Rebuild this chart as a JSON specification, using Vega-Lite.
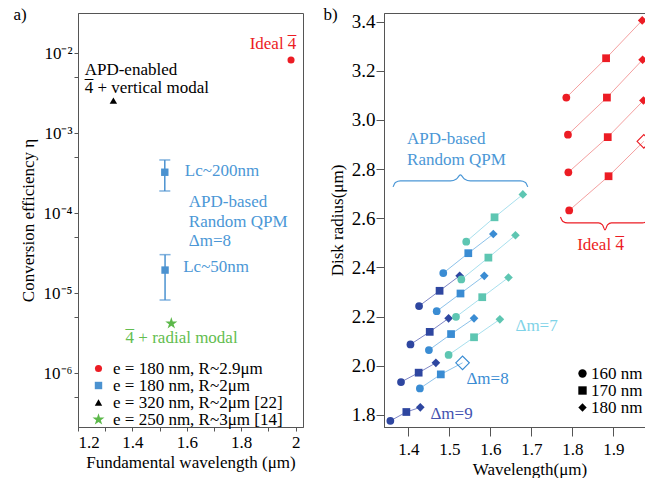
{
  "$schema": "https://vega.github.io/schema/vega-lite/v6.json",
  "background": "white",
  "padding": {"left": 13, "top": 5, "right": 0, "bottom": 0},
  "bounds": "flush",
  "spacing": 81,
  "config": {
    "font": "Liberation Serif",
    "view": {"stroke": "#555", "strokeWidth": 1},
    "axis": {"grid": false, "domainColor": "#555", "tickColor": "#555", "labelColor": "black", "titleColor": "black", "labelFont": "Liberation Serif", "titleFont": "Liberation Serif", "titleFontWeight": "normal", "labelFontSize": 17, "titleFontSize": 17, "labelOverlap": false},
    "text": {"font": "Liberation Serif", "fontSize": 17, "baseline": "alphabetic"},
    "legend": {"labelFont": "Liberation Serif", "labelFontSize": 17, "labelColor": "black"}
  },
  "datasets": {
    "pts": [
      {"dm": "9", "grp": "9-1", "e": "160 nm", "x": 1.356, "y": 1.776},
      {"dm": "9", "grp": "9-1", "e": "170 nm", "x": 1.395, "y": 1.812},
      {"dm": "9", "grp": "9-1", "e": "180 nm", "x": 1.429, "y": 1.831},
      {"dm": "9", "grp": "9-2", "e": "160 nm", "x": 1.382, "y": 1.934},
      {"dm": "9", "grp": "9-2", "e": "170 nm", "x": 1.425, "y": 1.972},
      {"dm": "9", "grp": "9-2", "e": "180 nm", "x": 1.467, "y": 2.012},
      {"dm": "9", "grp": "9-3", "e": "160 nm", "x": 1.405, "y": 2.087},
      {"dm": "9", "grp": "9-3", "e": "170 nm", "x": 1.452, "y": 2.138},
      {"dm": "9", "grp": "9-3", "e": "180 nm", "x": 1.498, "y": 2.193},
      {"dm": "9", "grp": "9-4", "e": "160 nm", "x": 1.426, "y": 2.243},
      {"dm": "9", "grp": "9-4", "e": "170 nm", "x": 1.476, "y": 2.305},
      {"dm": "9", "grp": "9-4", "e": "180 nm", "x": 1.525, "y": 2.366},
      {"dm": "8", "grp": "8-1", "e": "160 nm", "x": 1.428, "y": 1.908},
      {"dm": "8", "grp": "8-1", "e": "170 nm", "x": 1.479, "y": 1.965},
      {"dm": "8", "grp": "8-1", "e": "180 nm", "x": 1.532, "y": 2.012, "open": true},
      {"dm": "8", "grp": "8-2", "e": "160 nm", "x": 1.450, "y": 2.064},
      {"dm": "8", "grp": "8-2", "e": "170 nm", "x": 1.504, "y": 2.129},
      {"dm": "8", "grp": "8-2", "e": "180 nm", "x": 1.560, "y": 2.193},
      {"dm": "8", "grp": "8-3", "e": "160 nm", "x": 1.469, "y": 2.222},
      {"dm": "8", "grp": "8-3", "e": "170 nm", "x": 1.527, "y": 2.294},
      {"dm": "8", "grp": "8-3", "e": "180 nm", "x": 1.585, "y": 2.366},
      {"dm": "8", "grp": "8-4", "e": "160 nm", "x": 1.485, "y": 2.377},
      {"dm": "8", "grp": "8-4", "e": "170 nm", "x": 1.546, "y": 2.458},
      {"dm": "8", "grp": "8-4", "e": "180 nm", "x": 1.607, "y": 2.536},
      {"dm": "7", "grp": "7-1", "e": "160 nm", "x": 1.498, "y": 2.044},
      {"dm": "7", "grp": "7-1", "e": "170 nm", "x": 1.560, "y": 2.116},
      {"dm": "7", "grp": "7-1", "e": "180 nm", "x": 1.623, "y": 2.189},
      {"dm": "7", "grp": "7-2", "e": "160 nm", "x": 1.516, "y": 2.199},
      {"dm": "7", "grp": "7-2", "e": "170 nm", "x": 1.580, "y": 2.279},
      {"dm": "7", "grp": "7-2", "e": "180 nm", "x": 1.644, "y": 2.359},
      {"dm": "7", "grp": "7-3", "e": "160 nm", "x": 1.529, "y": 2.351},
      {"dm": "7", "grp": "7-3", "e": "170 nm", "x": 1.595, "y": 2.440},
      {"dm": "7", "grp": "7-3", "e": "180 nm", "x": 1.661, "y": 2.531},
      {"dm": "7", "grp": "7-4", "e": "160 nm", "x": 1.541, "y": 2.505},
      {"dm": "7", "grp": "7-4", "e": "170 nm", "x": 1.610, "y": 2.604},
      {"dm": "7", "grp": "7-4", "e": "180 nm", "x": 1.679, "y": 2.697},
      {"dm": "ideal", "grp": "i-1", "e": "160 nm", "x": 1.792, "y": 2.632},
      {"dm": "ideal", "grp": "i-1", "e": "170 nm", "x": 1.888, "y": 2.771},
      {"dm": "ideal", "grp": "i-1", "e": "180 nm", "x": 1.974, "y": 2.913, "open": true},
      {"dm": "ideal", "grp": "i-2", "e": "160 nm", "x": 1.790, "y": 2.787},
      {"dm": "ideal", "grp": "i-2", "e": "170 nm", "x": 1.886, "y": 2.930},
      {"dm": "ideal", "grp": "i-2", "e": "180 nm", "x": 1.973, "y": 3.079},
      {"dm": "ideal", "grp": "i-3", "e": "160 nm", "x": 1.789, "y": 2.940},
      {"dm": "ideal", "grp": "i-3", "e": "170 nm", "x": 1.884, "y": 3.091},
      {"dm": "ideal", "grp": "i-3", "e": "180 nm", "x": 1.971, "y": 3.245},
      {"dm": "ideal", "grp": "i-4", "e": "160 nm", "x": 1.785, "y": 3.091},
      {"dm": "ideal", "grp": "i-4", "e": "170 nm", "x": 1.882, "y": 3.251},
      {"dm": "ideal", "grp": "i-4", "e": "180 nm", "x": 1.970, "y": 3.405}
    ]
  },
  "resolve": {"scale": {"color": "independent", "shape": "independent", "size": "independent"}},
  "hconcat": [
    {
      "width": 225,
      "height": 414,
      "encoding": {
        "x": {"field": "x", "type": "quantitative", "title": "Fundamental wavelength (μm)",
          "scale": {"domain": [1.2, 2.027], "nice": false, "zero": false},
          "axis": {"values": [1.2, 1.3, 1.4, 1.5, 1.6, 1.7, 1.8, 1.9, 2.0], "labelExpr": "round(datum.value*10)%2==0 ? format(datum.value,'.1~f') : ''", "tickSize": 4, "labelPadding": 3, "titlePadding": 4}},
        "y": {"field": "y", "type": "quantitative", "title": "Conversion efficiency η",
          "scale": {"type": "log", "domain": [2.13e-7, 0.0319], "nice": false},
          "axis": {"values": [5e-7, 1e-6, 5e-6, 1e-5, 5e-5, 1e-4, 5e-4, 1e-3, 5e-3, 1e-2], "labelExpr": "abs(log(datum.value)/LN10 - round(log(datum.value)/LN10)) > 0.05 ? '' : '10' + (round(log(datum.value)/LN10) == -2 ? '⁻²' : round(log(datum.value)/LN10) == -3 ? '⁻³' : round(log(datum.value)/LN10) == -4 ? '⁻⁴' : round(log(datum.value)/LN10) == -5 ? '⁻⁵' : '⁻⁶')", "tickSize": 4, "labelPadding": 2, "titlePadding": 6}}
      },
      "layer": [
        {
          "data": {"values": [{"x": 1.519, "lo": 1.9e-4, "hi": 4.64e-4}, {"x": 1.52, "lo": 8.24e-6, "hi": 3.04e-5}]},
          "mark": {"type": "rule", "color": "#4b92d0", "strokeWidth": 1.5},
          "encoding": {"y": {"field": "lo", "type": "quantitative", "title": "Conversion efficiency η"}, "y2": {"field": "hi"}}
        },
        {
          "data": {"values": [{"x": 1.519, "lo": 1.9e-4, "hi": 4.64e-4}, {"x": 1.52, "lo": 8.24e-6, "hi": 3.04e-5}]},
          "mark": {"type": "tick", "orient": "horizontal", "color": "#4b92d0", "size": 11, "thickness": 1.5},
          "encoding": {"y": {"field": "lo", "type": "quantitative", "title": "Conversion efficiency η"}}
        },
        {
          "data": {"values": [{"x": 1.519, "lo": 1.9e-4, "hi": 4.64e-4}, {"x": 1.52, "lo": 8.24e-6, "hi": 3.04e-5}]},
          "mark": {"type": "tick", "orient": "horizontal", "color": "#4b92d0", "size": 11, "thickness": 1.5},
          "encoding": {"y": {"field": "hi", "type": "quantitative", "title": "Conversion efficiency η"}}
        },
        {
          "data": {"values": [
            {"series": "e = 180 nm, R~2.9μm", "x": 1.983, "y": 0.00824},
            {"series": "e = 180 nm, R~2μm", "x": 1.519, "y": 3.26e-4},
            {"series": "e = 180 nm, R~2μm", "x": 1.52, "y": 1.95e-5},
            {"series": "e = 320 nm, R~2μm [22]", "x": 1.33, "y": 0.00256},
            {"series": "e = 250 nm, R~3μm [14]", "x": 1.543, "y": 4.2e-6}
          ]},
          "mark": {"type": "point", "filled": true, "opacity": 1},
          "encoding": {
            "color": {"field": "series", "type": "nominal",
              "scale": {"domain": ["e = 180 nm, R~2.9μm", "e = 180 nm, R~2μm", "e = 320 nm, R~2μm [22]", "e = 250 nm, R~3μm [14]"], "range": ["#ec1c24", "#4b92d0", "#000000", "#5cb84a"]},
              "legend": {"orient": "none", "legendX": 12, "legendY": 347, "title": null, "padding": 0, "rowPadding": -2.7, "labelOffset": 6, "labelLimit": 300}},
            "shape": {"field": "series", "type": "nominal",
              "scale": {"domain": ["e = 180 nm, R~2.9μm", "e = 180 nm, R~2μm", "e = 320 nm, R~2μm [22]", "e = 250 nm, R~3μm [14]"], "range": ["circle", "square", "triangle-up", "M0,-1L0.2245,-0.309L0.9511,-0.309L0.3633,0.118L0.5878,0.809L0,0.382L-0.5878,0.809L-0.3633,0.118L-0.9511,-0.309L-0.2245,-0.309Z"]},
              "legend": {"orient": "none", "legendX": 12, "legendY": 347, "title": null, "padding": 0, "rowPadding": -2.7, "labelOffset": 6, "labelLimit": 300}},
            "size": {"field": "series", "type": "nominal",
              "scale": {"type": "ordinal", "domain": ["e = 180 nm, R~2.9μm", "e = 180 nm, R~2μm", "e = 320 nm, R~2μm [22]", "e = 250 nm, R~3μm [14]"], "range": [50, 55, 55, 160]},
              "legend": {"orient": "none", "legendX": 12, "legendY": 347, "title": null, "padding": 0, "rowPadding": -2.7, "labelOffset": 6, "labelLimit": 300}}
          }
        },
        {
          "data": {"values": [{"x": 2.0026, "y": 0.01132, "t": "Ideal 4"}]},
          "mark": {"type": "text", "align": "right", "color": "#ec1c24"},
          "encoding": {"text": {"field": "t"}}
        },
        {
          "data": {"values": [{"x": 2.0026, "y": 0.01132, "t": "_"}]},
          "mark": {"type": "text", "align": "right", "color": "#ec1c24", "dy": -15},
          "encoding": {"text": {"field": "t"}}
        },
        {
          "data": {"values": [
            {"x": 1.2246, "y": 0.005355, "t": "APD-enabled"},
            {"x": 1.2246, "y": 0.003192, "t": "4 + vertical modal"},
            {"x": 0.963, "y": 0.02606, "t": "a)"}
          ]},
          "mark": {"type": "text", "align": "left", "color": "#000000"},
          "encoding": {"text": {"field": "t"}}
        },
        {
          "data": {"values": [{"x": 1.2246, "y": 0.003192, "t": "_"}]},
          "mark": {"type": "text", "align": "left", "color": "#000000", "dy": -15},
          "encoding": {"text": {"field": "t"}}
        },
        {
          "data": {"values": [
            {"x": 1.5927, "y": 2.924e-4, "t": "Lc~200nm"},
            {"x": 1.6073, "y": 1.189e-4, "t": "APD-based"},
            {"x": 1.6073, "y": 6.645e-5, "t": "Random QPM"},
            {"x": 1.6073, "y": 3.846e-5, "t": "Δm=8"},
            {"x": 1.5868, "y": 1.862e-5, "t": "Lc~50nm"}
          ]},
          "mark": {"type": "text", "align": "left", "color": "#4b97d6"},
          "encoding": {"text": {"field": "t"}}
        },
        {
          "data": {"values": [{"x": 1.375, "y": 2.413e-6, "t": "4 + radial modal"}]},
          "mark": {"type": "text", "align": "left", "color": "#63bd4f"},
          "encoding": {"text": {"field": "t"}}
        },
        {
          "data": {"values": [{"x": 1.375, "y": 2.413e-6, "t": "_"}]},
          "mark": {"type": "text", "align": "left", "color": "#63bd4f", "dy": -15},
          "encoding": {"text": {"field": "t"}}
        }
      ]
    },
    {
      "width": 291,
      "height": 414,
      "encoding": {
        "x": {"field": "x", "type": "quantitative", "title": "Wavelength(μm)",
          "scale": {"domain": [1.3405, 2.05], "nice": false, "zero": false},
          "axis": {"values": [1.4, 1.5, 1.6, 1.7, 1.8, 1.9], "format": ".1f", "tickSize": 9, "labelPadding": 5, "titlePadding": 4}},
        "y": {"field": "y", "type": "quantitative", "title": "Disk radius(μm)",
          "scale": {"domain": [1.751, 3.435], "nice": false, "zero": false},
          "axis": {"values": [1.8, 2.0, 2.2, 2.4, 2.6, 2.8, 3.0, 3.2, 3.4], "format": ".1f", "tickSize": 8, "labelPadding": 1, "titlePadding": 5, "labelFontSize": 19}}
      },
      "resolve": {"scale": {"color": "independent"}},
      "layer": [
        {
          "data": {"name": "pts"},
          "mark": {"type": "line", "strokeWidth": 1},
          "encoding": {
            "detail": {"field": "grp"},
            "order": {"field": "x"},
            "color": {"field": "dm", "type": "nominal", "scale": {"domain": ["9", "8", "7", "ideal"], "range": ["#7f87c6", "#8cc2ea", "#a8e0ee", "#f4a0a0"]}, "legend": null}
          }
        },
        {
          "data": {"name": "pts"},
          "transform": [{"filter": "datum.open !== true"}],
          "mark": {"type": "point", "filled": true, "opacity": 1},
          "encoding": {
            "color": {"field": "dm", "type": "nominal", "scale": {"domain": ["9", "8", "7", "ideal"], "range": ["#2e46a0", "#3a8cd3", "#5ec6b2", "#ec1c24"]}, "legend": null},
            "shape": {"field": "e", "type": "nominal", "scale": {"domain": ["160 nm", "170 nm", "180 nm"], "range": ["circle", "square", "diamond"]},
              "legend": {"orient": "none", "legendX": 190, "legendY": 352, "title": null, "padding": 0, "rowPadding": -4, "labelOffset": 0, "symbolSize": 70,
                "encode": {"symbols": {"update": {"fill": {"value": "black"}, "stroke": {"value": "black"}, "opacity": {"value": 1}}}}}},
            "size": {"field": "e", "type": "nominal", "scale": {"type": "ordinal", "domain": ["160 nm", "170 nm", "180 nm"], "range": [60, 60, 75]}, "legend": null}
          }
        },
        {
          "data": {"name": "pts"},
          "transform": [{"filter": "datum.open === true"}],
          "mark": {"type": "point", "filled": false, "opacity": 1, "strokeWidth": 1.2},
          "encoding": {
            "color": {"field": "dm", "type": "nominal", "scale": {"domain": ["9", "8", "7", "ideal"], "range": ["#2e46a0", "#3a8cd3", "#5ec6b2", "#ec1c24"]}, "legend": null},
            "shape": {"field": "e", "type": "nominal",
              "legend": {"orient": "none", "legendX": 190, "legendY": 352, "title": null, "padding": 0, "rowPadding": -4, "labelOffset": 0, "symbolSize": 70,
                "encode": {"symbols": {"update": {"fill": {"value": "black"}, "stroke": {"value": "black"}, "opacity": {"value": 1}}}}}},
            "size": {"field": "e", "type": "nominal", "legend": null}
          }
        },
        {
          "data": {"values": [
            {"x": 1.3627, "y": 2.7276}, {"x": 1.3683, "y": 2.7459}, {"x": 1.3805, "y": 2.7520},
            {"x": 1.5024, "y": 2.7520}, {"x": 1.5171, "y": 2.7601}, {"x": 1.5268, "y": 2.7764},
            {"x": 1.5366, "y": 2.7601}, {"x": 1.5512, "y": 2.7520}, {"x": 1.6732, "y": 2.7520},
            {"x": 1.6854, "y": 2.7459}, {"x": 1.6910, "y": 2.7276}
          ]},
          "mark": {"type": "line", "color": "#4b97d6", "strokeWidth": 1.2, "interpolate": "monotone"},
          "encoding": {}
        },
        {
          "data": {"values": [
            {"x": 1.7707, "y": 2.6055}, {"x": 1.7768, "y": 2.5872}, {"x": 1.7878, "y": 2.5811},
            {"x": 1.8634, "y": 2.5811}, {"x": 1.8732, "y": 2.5730}, {"x": 1.8793, "y": 2.5526},
            {"x": 1.8854, "y": 2.5730}, {"x": 1.8951, "y": 2.5811}, {"x": 1.9707, "y": 2.5811},
            {"x": 1.9817, "y": 2.5872}, {"x": 1.9878, "y": 2.6055}
          ]},
          "mark": {"type": "line", "color": "#ec1c24", "strokeWidth": 1.2, "interpolate": "monotone"},
          "encoding": {}
        },
        {
          "data": {"values": [
            {"x": 1.3968, "y": 2.9013, "t": "APD-based"},
            {"x": 1.3968, "y": 2.8159, "t": "Random QPM"}
          ]},
          "mark": {"type": "text", "align": "left", "color": "#4b97d6"},
          "encoding": {"text": {"field": "t"}}
        },
        {
          "data": {"values": [{"x": 1.9254, "y": 2.4713, "t": "Ideal 4"}]},
          "mark": {"type": "text", "align": "right", "color": "#ec1c24"},
          "encoding": {"text": {"field": "t"}}
        },
        {
          "data": {"values": [{"x": 1.9254, "y": 2.4713, "t": "_"}]},
          "mark": {"type": "text", "align": "right", "color": "#ec1c24", "dy": -15},
          "encoding": {"text": {"field": "t"}}
        },
        {
          "data": {"values": [{"x": 1.661, "y": 2.1417, "t": "Δm=7"}]},
          "mark": {"type": "text", "align": "left", "color": "#7fd3e8"},
          "encoding": {"text": {"field": "t"}}
        },
        {
          "data": {"values": [{"x": 1.5415, "y": 1.9273, "t": "Δm=8"}]},
          "mark": {"type": "text", "align": "left", "color": "#3a8cd3"},
          "encoding": {"text": {"field": "t"}}
        },
        {
          "data": {"values": [{"x": 1.4537, "y": 1.785, "t": "Δm=9"}]},
          "mark": {"type": "text", "align": "left", "color": "#4352b0"},
          "encoding": {"text": {"field": "t"}}
        },
        {
          "data": {"values": [{"x": 1.1927, "y": 3.407, "t": "b)"}]},
          "mark": {"type": "text", "align": "left", "color": "#000000"},
          "encoding": {"text": {"field": "t"}}
        }
      ]
    }
  ]
}
